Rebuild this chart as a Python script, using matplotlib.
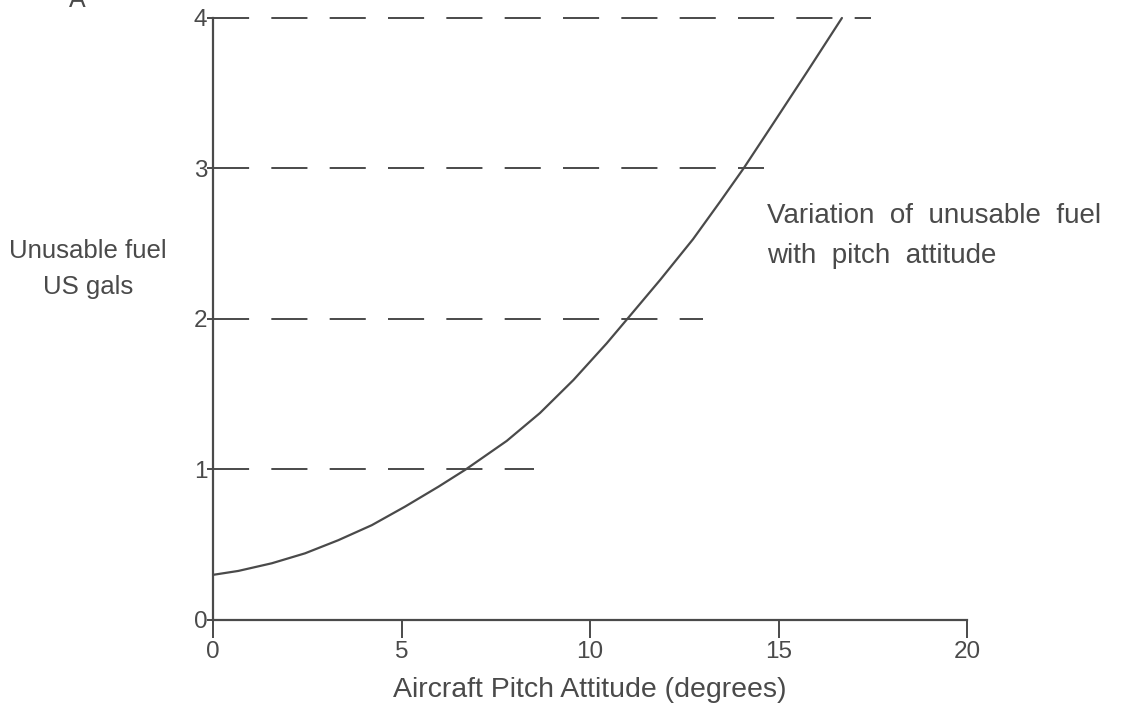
import matplotlib
matplotlib.use("Agg")
from matplotlib import pyplot as plt

# curve
pitch_deg = [0.0, 0.67, 1.56, 2.44, 3.32, 4.21, 5.09, 5.98, 6.7, 7.79, 8.67, 9.56, 10.44, 11.02,
             11.86, 12.73, 13.45, 14.07, 14.86, 15.75, 16.68]
unusable_gal = [0.30, 0.326, 0.377, 0.443, 0.53, 0.63, 0.753, 0.886, 1.0, 1.19, 1.375, 1.595, 1.838, 2.01,
                2.26, 2.53, 2.78, 3.0, 3.3, 3.64, 4.0]

# dashed guide lines: level and where each one stops
guide_levels = [1, 2, 3, 4]
guide_ends = [8.5, 13.0, 14.6, 17.45]

x_ticks = [0, 5, 10, 15, 20]
y_ticks = [0, 1, 2, 3, 4]

ink = "#4a4a4a"
plt.rcParams["font.family"] = ["Liberation Sans", "DejaVu Sans"]
plt.rcParams["lines.scale_dashes"] = False

fig = plt.figure(figsize=(11.43, 7.08), dpi=100)
ax = fig.add_axes([0.1864, 0.1243, 0.6597, 0.8503])

ax.plot(pitch_deg, unusable_gal, color=ink, lw=1.6, solid_capstyle="round", solid_joinstyle="round",
        clip_on=False)
ax.hlines(guide_levels, 0, guide_ends, colors=ink, lw=1.4, linestyles=[(0, (26, 16))], clip_on=False)

ax.set_xlim(0, 20)
ax.set_ylim(0, 4)
ax.set_xticks(x_ticks)
ax.set_yticks(y_ticks)
for side in ("top", "right"):
    ax.spines[side].set_visible(False)
for side in ("left", "bottom"):
    ax.spines[side].set_color(ink)
    ax.spines[side].set_linewidth(1.6)
ax.tick_params(axis="x", length=13, width=1.4, color=ink, labelcolor=ink, labelsize=17.5, pad=2)
ax.tick_params(axis="y", length=4, width=1.4, color=ink, labelcolor=ink, labelsize=17.5, pad=0)
ax.set_xlabel("Aircraft Pitch Attitude (degrees)", fontsize=20.5, color=ink, labelpad=10)

fig.text(0.077, 0.62, "Unusable fuel\nUS gals", ha="center", va="center", fontsize=18.5,
         color=ink, linespacing=1.65)
fig.text(0.671, 0.666, "Variation  of  unusable  fuel\nwith  pitch  attitude", ha="left", va="center",
         fontsize=20, color=ink, linespacing=1.7)
fig.text(0.068, 1.0, "A", ha="center", va="center", fontsize=18, color=ink)

fig.savefig("out.png", dpi=100)
